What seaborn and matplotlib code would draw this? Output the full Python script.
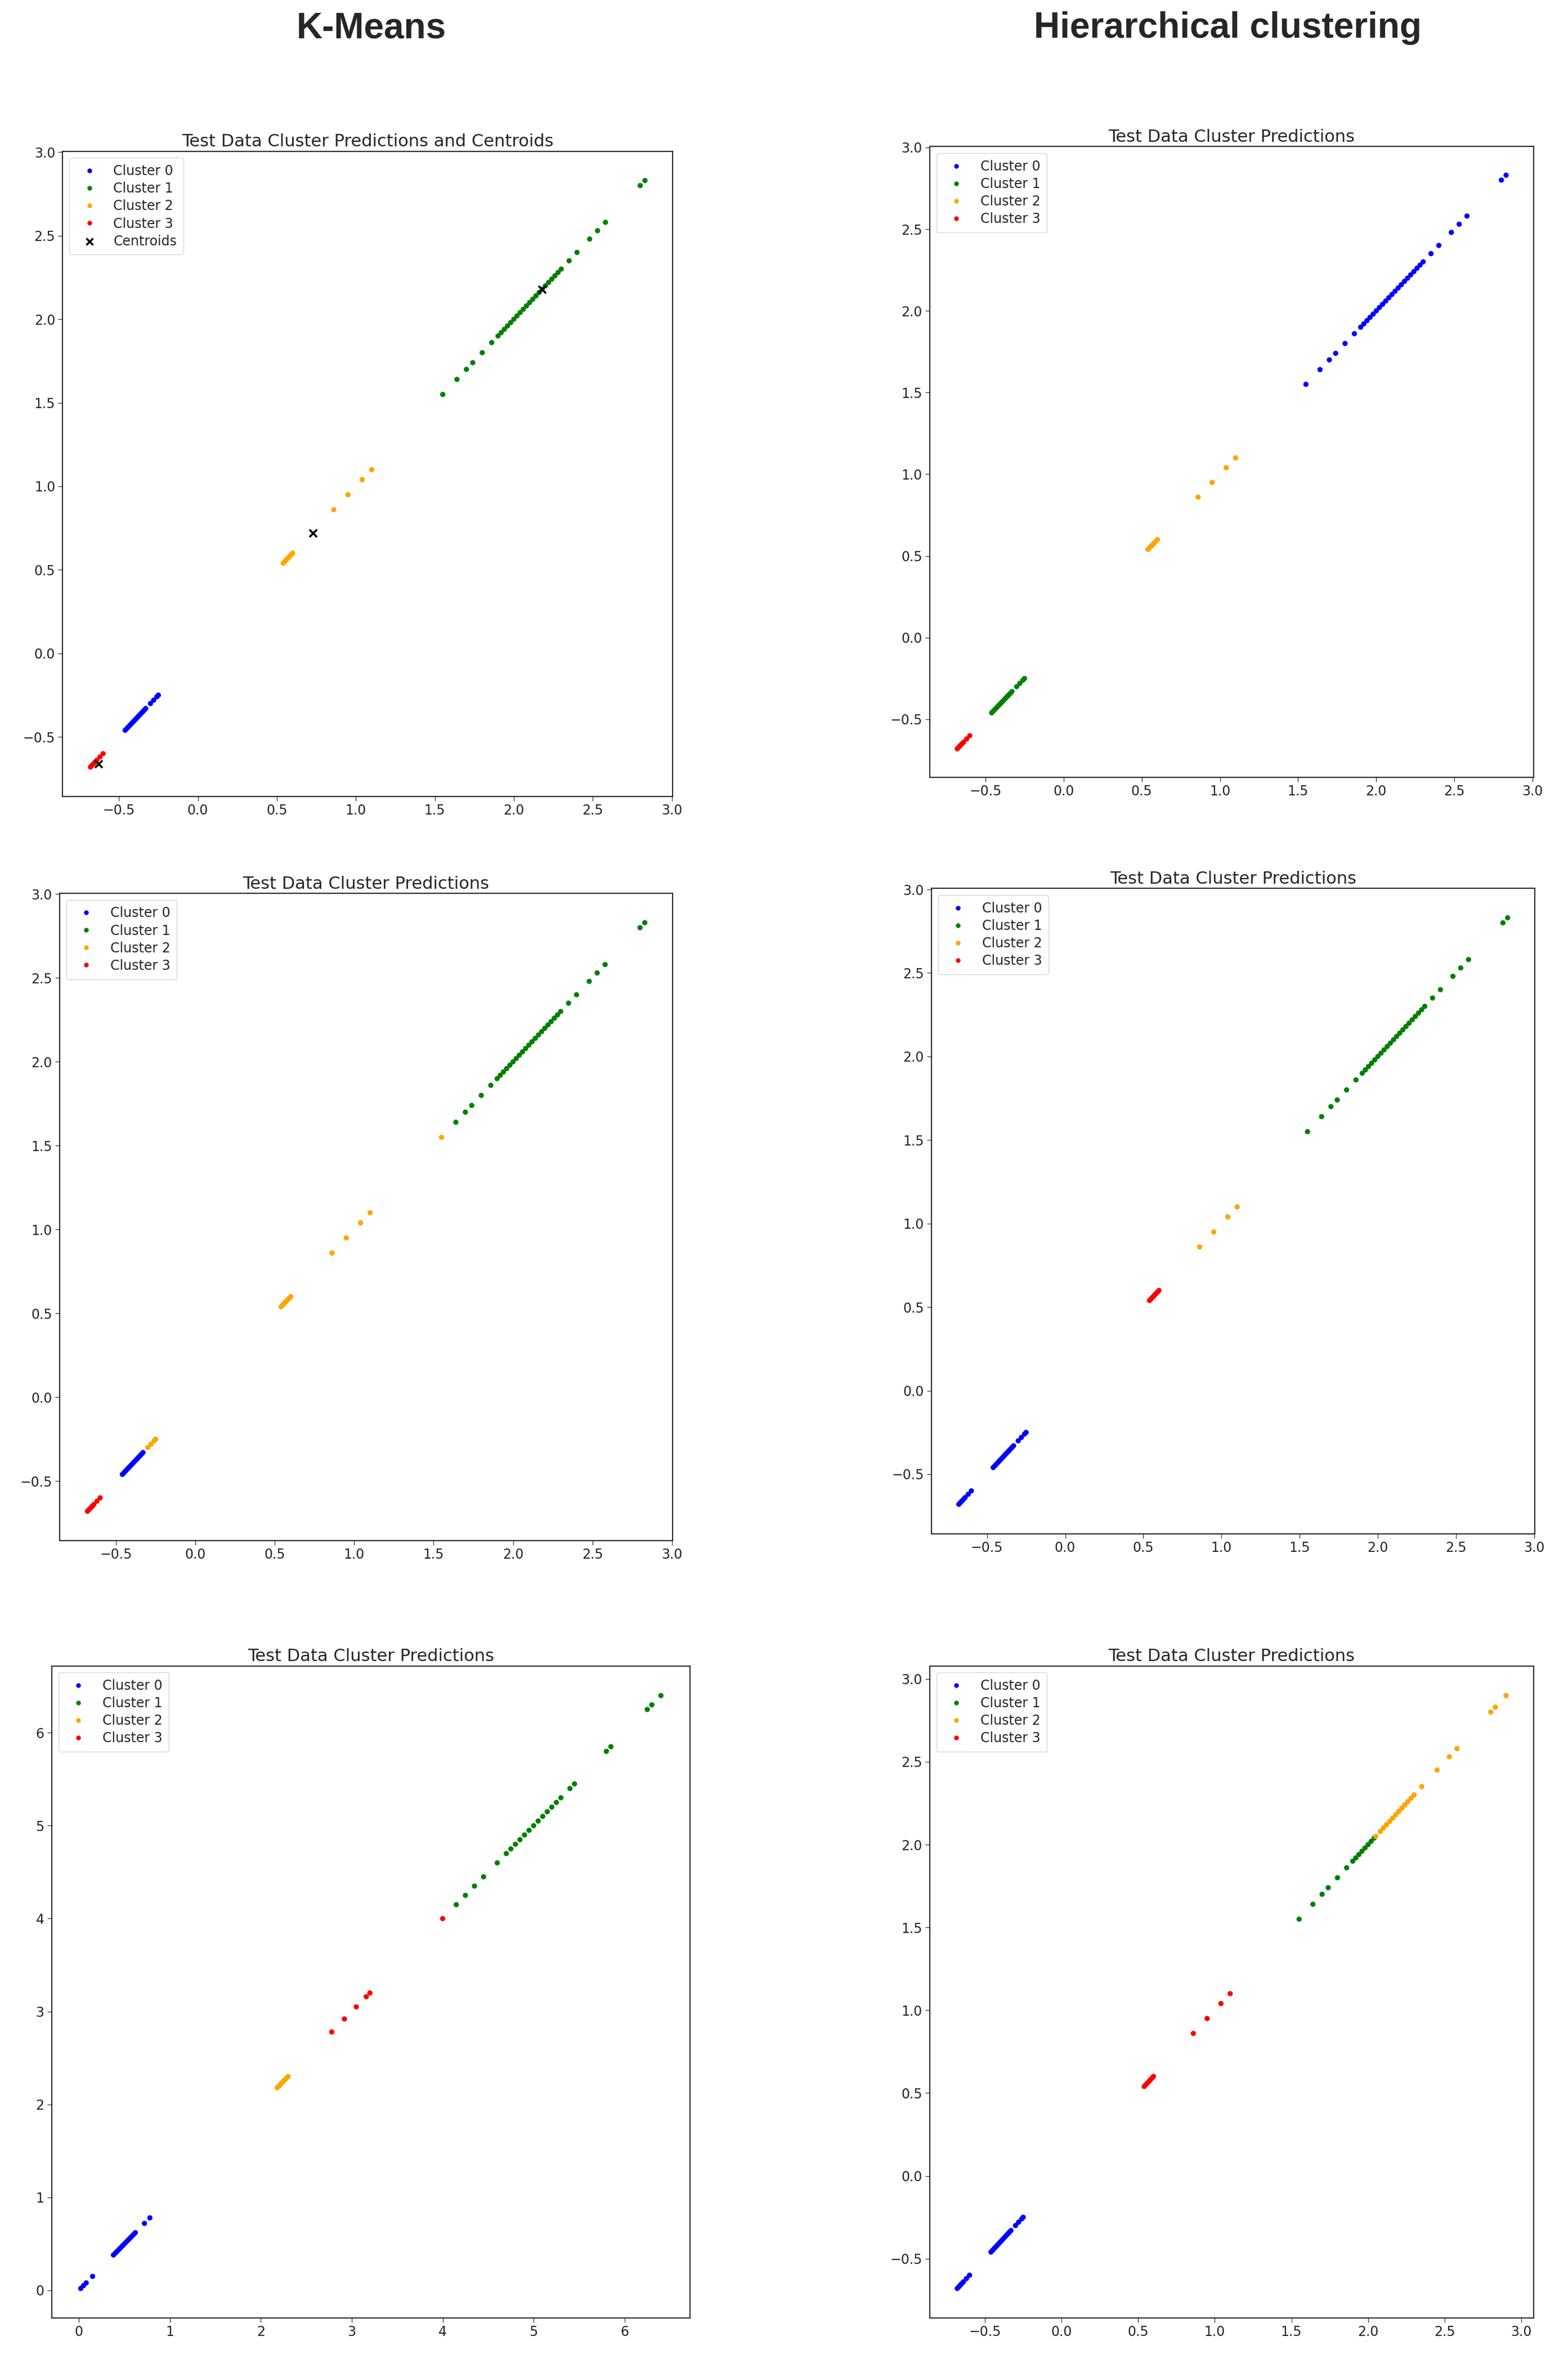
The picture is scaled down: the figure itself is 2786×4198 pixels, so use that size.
import matplotlib
matplotlib.use("Agg")
import matplotlib.pyplot as plt
import seaborn as sns
import pandas as pd

# points lie on the diagonal (x == y)
red_low = [-0.68, -0.67, -0.66, -0.65, -0.64, -0.62, -0.60]
blue_mid = [-0.46, -0.45, -0.44, -0.43, -0.42, -0.41, -0.40, -0.39, -0.38,
            -0.37, -0.36, -0.35, -0.34, -0.33]
tail = [-0.30, -0.28, -0.26, -0.25]
orange_low = [0.54, 0.55, 0.56, 0.57, 0.58, 0.59, 0.60]
orange_high = [0.86, 0.95, 1.04, 1.10]
green_first = [1.55]
green_low = [1.64, 1.70, 1.74, 1.80, 1.86, 1.90, 1.92, 1.94, 1.96, 1.98, 2.00, 2.02, 2.04]
green_high = [2.06, 2.08, 2.10, 2.12, 2.14, 2.16, 2.18, 2.20, 2.22, 2.24, 2.26,
              2.28, 2.30, 2.35, 2.40, 2.48, 2.53, 2.58, 2.80, 2.83]
orange_top = [2.05, 2.08, 2.10, 2.12, 2.14, 2.16, 2.18, 2.20, 2.22, 2.24, 2.26, 2.28,
              2.30, 2.35, 2.45, 2.53, 2.58, 2.80, 2.83, 2.90]

# bottom-left panel uses a different scale
blue5 = [0.02, 0.05, 0.08, 0.15, 0.38, 0.40, 0.42, 0.44, 0.46, 0.48, 0.50, 0.52,
         0.54, 0.56, 0.58, 0.60, 0.62, 0.72, 0.78]
orange5 = [2.18, 2.20, 2.22, 2.24, 2.26, 2.28, 2.30]
red5 = [2.78, 2.92, 3.05, 3.16, 3.20, 4.00]
green5 = [4.15, 4.25, 4.35, 4.45, 4.60, 4.70, 4.75, 4.80, 4.85, 4.90, 4.95, 5.00,
          5.05, 5.10, 5.15, 5.20, 5.25, 5.30, 5.40, 5.45, 5.80, 5.85, 6.25, 6.30, 6.40]

centroid_x = [-0.63, 0.73, 2.18]
centroid_y = [-0.66, 0.72, 2.18]

panels = [
    ("Test Data Cluster Predictions and Centroids",
     {0: blue_mid + tail, 1: green_first + green_low + green_high,
      2: orange_low + orange_high, 3: red_low}),
    ("Test Data Cluster Predictions",
     {0: green_first + green_low + green_high, 1: blue_mid + tail,
      2: orange_low + orange_high, 3: red_low}),
    ("Test Data Cluster Predictions",
     {0: blue_mid, 1: green_low + green_high,
      2: tail + orange_low + orange_high + green_first, 3: red_low}),
    ("Test Data Cluster Predictions",
     {0: red_low + blue_mid + tail, 1: green_first + green_low + green_high,
      2: orange_high, 3: orange_low}),
    ("Test Data Cluster Predictions",
     {0: blue5, 1: green5, 2: orange5, 3: red5}),
    ("Test Data Cluster Predictions",
     {0: red_low + blue_mid + tail, 1: green_first + green_low,
      2: orange_top, 3: orange_low + orange_high}),
]

palette = {"Cluster 0": "blue", "Cluster 1": "green",
           "Cluster 2": "orange", "Cluster 3": "red"}

sns.set_style("white", {"axes.edgecolor": "black"})
plt.rcParams['font.family'] = ['DejaVu Sans']

fig = plt.figure(figsize=(27.86, 41.98), dpi=100)
boxes = [
    (0.040, 0.663, 0.389, 0.273),
    (0.593, 0.671, 0.385, 0.267),
    (0.038, 0.348, 0.391, 0.274),
    (0.594, 0.351, 0.385, 0.273),
    (0.033, 0.019, 0.407, 0.276),
    (0.593, 0.019, 0.385, 0.276),
]

for i, ((title, groups), box) in enumerate(zip(panels, boxes)):
    ax = fig.add_axes(box)
    rows = []
    for k, vals in groups.items():
        for v in vals:
            rows.append({"x": v, "y": v, "cluster": f"Cluster {k}"})
    df = pd.DataFrame(rows)
    sns.scatterplot(data=df, x="x", y="y", hue="cluster", palette=palette,
                    hue_order=list(palette), s=45, edgecolor=None, linewidth=0, ax=ax)
    if i == 0:
        ax.scatter(centroid_x, centroid_y, marker="x", c="black", s=90,
                   linewidths=2.5, label="Centroids")
    ax.set_title(title, fontsize=22)
    ax.set_xlabel("")
    ax.set_ylabel("")
    ax.tick_params(labelsize=17, length=6, left=True, bottom=True)
    for sp in ax.spines.values():
        sp.set_linewidth(1.2)
    ax.legend(loc="upper left", fontsize=17, markerscale=0.9, frameon=True,
              handletextpad=0.8, borderpad=0.5, labelspacing=0.3)

fig.text(0.237, 0.988, "K-Means", ha="center", va="center", fontsize=46,
         fontweight="bold", family=["Liberation Sans", "DejaVu Sans"])
fig.text(0.783, 0.988, "Hierarchical clustering", ha="center", va="center",
         fontsize=46, fontweight="bold", family=["Liberation Sans", "DejaVu Sans"])

fig.savefig("out.png", dpi=100)
